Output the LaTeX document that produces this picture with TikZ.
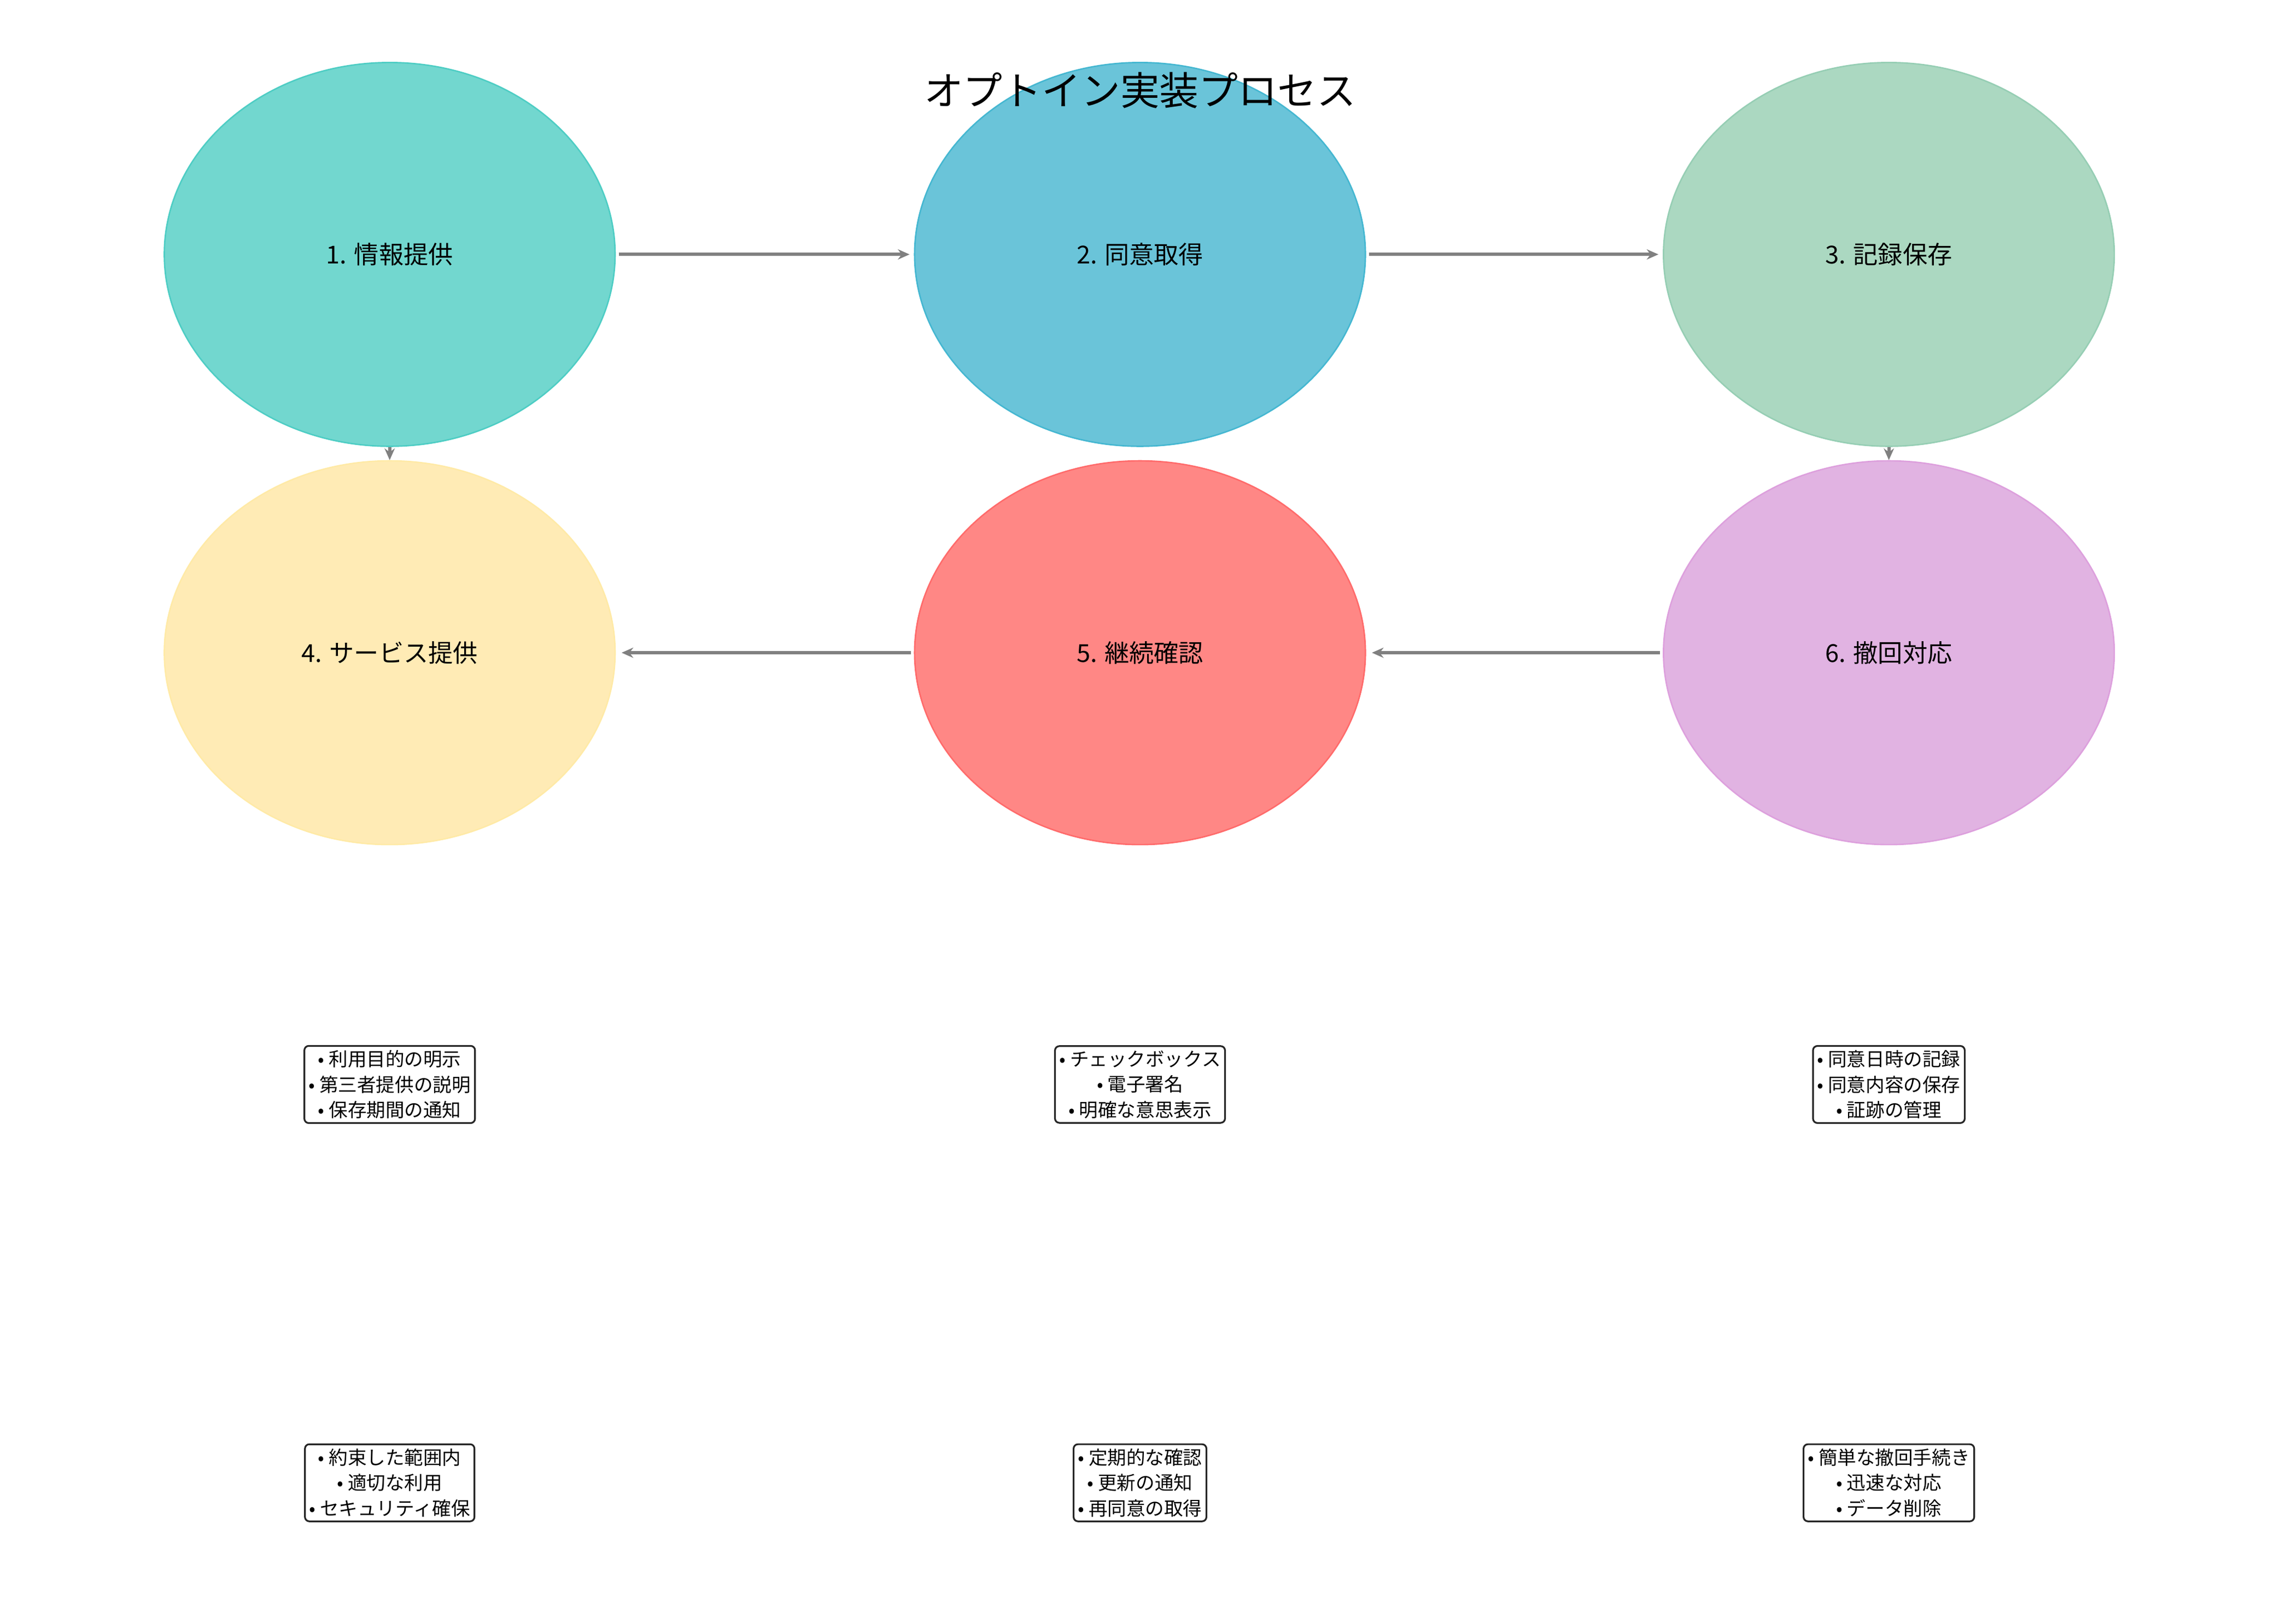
\documentclass[tikz,border=0pt]{standalone}
\usepackage{fontspec}
\setmainfont{Noto Sans CJK JP}
\usetikzlibrary{shapes.geometric,arrows.meta}
\definecolor{c1}{HTML}{72D7CF}\definecolor{b1}{HTML}{4ECDC4}
\definecolor{c2}{HTML}{6AC4D9}\definecolor{b2}{HTML}{45B7D1}
\definecolor{c3}{HTML}{ABD8C1}\definecolor{b3}{HTML}{96CEB4}
\definecolor{c4}{HTML}{FFEBB5}\definecolor{b4}{HTML}{FFEAA7}
\definecolor{c5}{HTML}{FF8785}\definecolor{b5}{HTML}{FF6B6B}
\definecolor{c6}{HTML}{E1B3E2}\definecolor{b6}{HTML}{DDA0DD}
\tikzset{
 stage/.style={ellipse,minimum width=310pt,minimum height=264pt,inner sep=0pt,line width=1pt,font=\fontsize{17}{20}\selectfont},
 flow/.style={draw=gray,line width=2.2pt,-{Stealth[length=8pt,width=7pt]}},
 note/.style={draw=black!85,rounded corners=3pt,line width=1.2pt,fill=white,align=center,font=\fontsize{13}{17.5}\selectfont,inner sep=3pt}
}
\begin{document}
\begin{tikzpicture}[x=1pt,y=-1pt]
\useasboundingbox (0,0) rectangle (1568,1117);
\node[stage,fill=c1,draw=b1] (s1) at (268,175) {1. 情報提供};
\node[stage,fill=c2,draw=b2] (s2) at (784,175) {2. 同意取得};
\node[stage,fill=c3,draw=b3] (s3) at (1299,175) {3. 記録保存};
\node[stage,fill=c4,draw=b4] (s4) at (268,449) {4. サービス提供};
\node[stage,fill=c5,draw=b5] (s5) at (784,449) {5. 継続確認};
\node[stage,fill=c6,draw=b6] (s6) at (1299,449) {6. 撤回対応};
\node[font=\fontsize{27}{30}\selectfont] (title) at (784,62) {オプトイン実装プロセス};
\draw[flow] (s1.east) ++(2,0) -- ([xshift=-3pt]s2.west);
\draw[flow] (s2.east) ++(2,0) -- ([xshift=-3pt]s3.west);
\draw[flow] (s6.west) ++(-2,0) -- ([xshift=4pt]s5.east);
\draw[flow] (s5.west) ++(-2,0) -- ([xshift=4pt]s4.east);
\draw[flow] (s1.south) -- (s4.north);
\draw[flow] (s3.south) -- (s6.north);
\node[note] (n1) at (268,746) {• 利用目的の明示\\• 第三者提供の説明\\• 保存期間の通知};
\node[note] (n2) at (784,746) {• チェックボックス\\• 電子署名\\• 明確な意思表示};
\node[note] (n3) at (1299,746) {• 同意日時の記録\\• 同意内容の保存\\• 証跡の管理};
\node[note] (n4) at (268,1020) {• 約束した範囲内\\• 適切な利用\\• セキュリティ確保};
\node[note] (n5) at (784,1020) {• 定期的な確認\\• 更新の通知\\• 再同意の取得};
\node[note] (n6) at (1299,1020) {• 簡単な撤回手続き\\• 迅速な対応\\• データ削除};
\end{tikzpicture}
\end{document}
